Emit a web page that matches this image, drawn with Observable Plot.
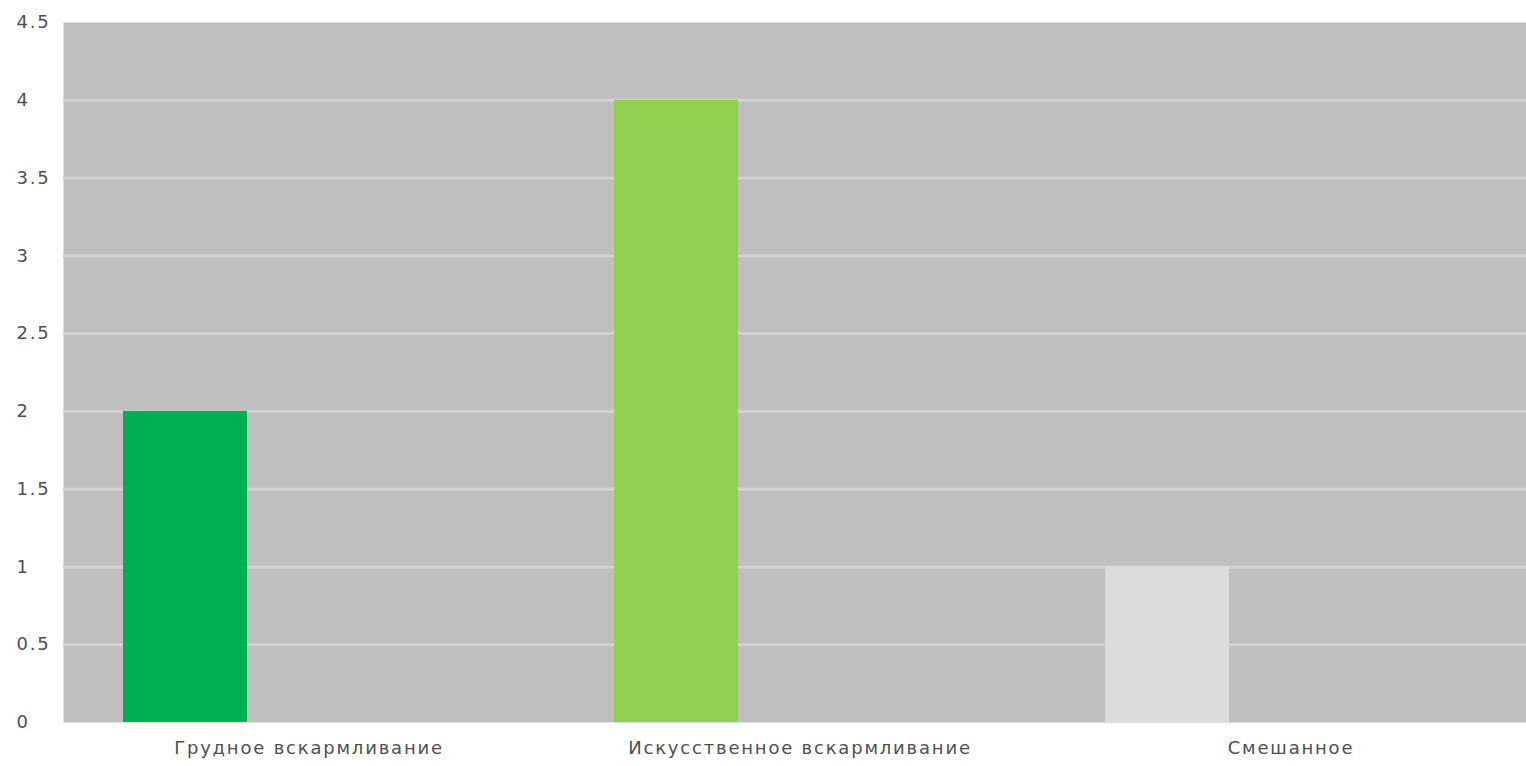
<!DOCTYPE html>
<html>
<head>
<meta charset="utf-8">
<script src="https://cdn.jsdelivr.net/npm/d3@7"></script>
<script src="https://cdn.jsdelivr.net/npm/@observablehq/plot@0.6"></script>
<style>
  html, body { margin: 0; padding: 0; background: #ffffff; }
  #chart svg text { letter-spacing: 1.8px; }
</style>
</head>
<body>
<div id="chart"></div>
<script>
const categories = ["Грудное вскармливание", "Искусственное вскармливание", "Смешанное"];
const values = [2, 4, 1];
const colors = ["#00b050", "#92d050", "#dcdcdc"];
const yTicks = [0, 0.5, 1, 1.5, 2, 2.5, 3, 3.5, 4, 4.5];

const data = categories.map((c, i) => ({category: c, value: values[i], color: colors[i]}));

const chart = Plot.plot({
  width: 1526,
  height: 766,
  marginLeft: 63,
  marginRight: 0,
  marginTop: 22,
  marginBottom: 44,
  style: {fontFamily: "'DejaVu Sans', sans-serif", fontSize: "18px", color: "#555555", background: "#ffffff"},
  x: {domain: categories, padding: 0, range: [63, 1536], label: null},
  y: {domain: [0, 4.5], label: null},
  marks: [
    Plot.frame({fill: "#bfbfbf", stroke: null}),
    Plot.gridY(yTicks.filter(t => t > 0 && t < 4.5), {stroke: "#d2d2d2", strokeOpacity: 1, strokeWidth: 3}),
    Plot.barY(data, {x: "category", y: "value", fill: d => d.color, insetLeft: 60, insetRight: 307}),
    Plot.axisY(yTicks, {tickSize: 0, textAnchor: "start", dx: -38, label: null, tickFormat: d => String(d), fill: "#505050"}),
    Plot.axisX({tickSize: 0, tickPadding: 19, label: null, fill: "#505050"})
  ]
});
document.getElementById("chart").appendChild(chart);
</script>
</body>
</html>
